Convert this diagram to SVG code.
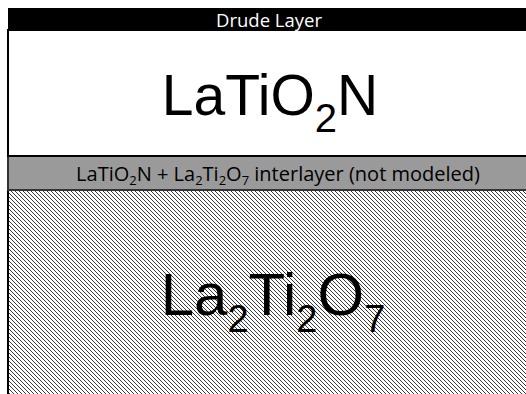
<svg xmlns="http://www.w3.org/2000/svg" width="526" height="394" viewBox="0 0 526 394">
  <defs>
    <pattern id="hatch" patternUnits="userSpaceOnUse" width="4" height="4">
      <rect width="4" height="4" fill="#ffffff"/>
      <path d="M-1,-1 L5,5 M-1,3 L1,5 M3,-1 L5,1" stroke="#222" stroke-width="0.9"/>
    </pattern>
  </defs>
  <style>
    .small { font-family: "Open Sans", "Liberation Sans", sans-serif; }
    .big { font-family: "Liberation Sans", Arial, sans-serif; fill: #000; }
  </style>
  <rect width="526" height="394" fill="#ffffff"/>
  <g id="substrate">
    <rect x="8" y="190" width="530" height="210" fill="url(#hatch)" stroke="#000" stroke-width="2"/>
    <text class="big" x="273" y="315" font-size="60" text-anchor="middle">La<tspan font-size="38" dy="17">2</tspan><tspan dy="-17">Ti</tspan><tspan font-size="38" dy="17">2</tspan><tspan dy="-17">O</tspan><tspan font-size="38" dy="17">7</tspan></text>
  </g>
  <g id="interlayer">
    <rect x="8" y="156" width="530" height="34" fill="#9a9a9a" stroke="#333" stroke-width="2"/>
    <text class="small" x="278" y="181" font-size="20" text-anchor="middle" fill="#000">LaTiO<tspan font-size="13" dy="4">2</tspan><tspan dy="-4">N + La</tspan><tspan font-size="13" dy="4">2</tspan><tspan dy="-4">Ti</tspan><tspan font-size="13" dy="4">2</tspan><tspan dy="-4">O</tspan><tspan font-size="13" dy="4">7</tspan><tspan dy="-4"> interlayer (not modeled)</tspan></text>
  </g>
  <g id="latio2n">
    <rect x="8" y="30" width="530" height="126" fill="#ffffff" stroke="#000" stroke-width="2"/>
    <text class="big" x="270" y="115" font-size="57" text-anchor="middle">LaTiO<tspan font-size="40" dy="17">2</tspan><tspan dy="-17">N</tspan></text>
  </g>
  <g id="drude">
    <rect x="8" y="8" width="530" height="23" fill="#000"/>
    <text class="small" x="269" y="26.5" font-size="18.5" text-anchor="middle" fill="#ffffff">Drude Layer</text>
  </g>
</svg>
